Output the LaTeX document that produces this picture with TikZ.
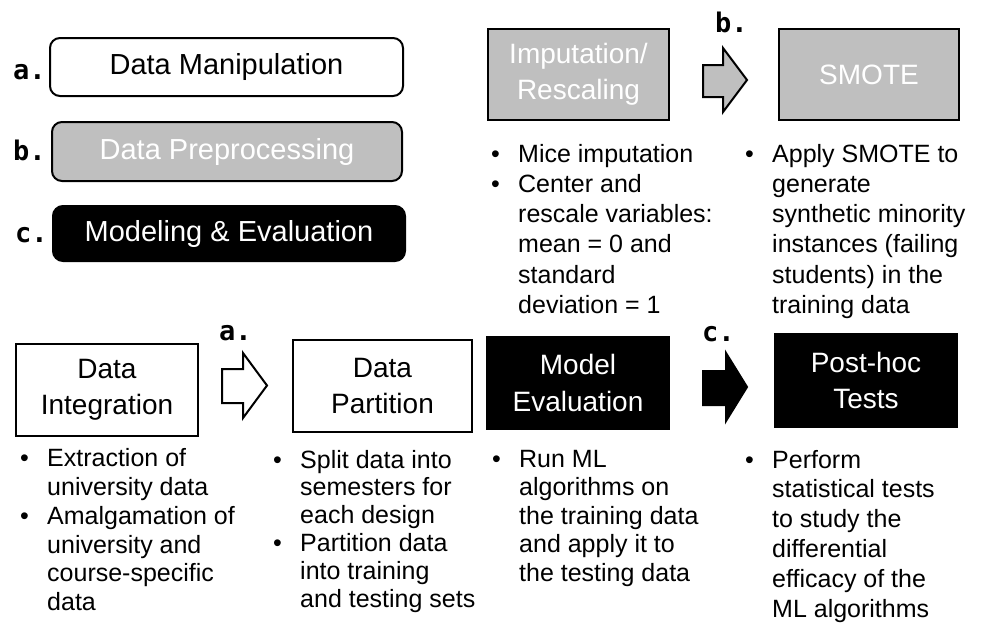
\documentclass[tikz,border=0pt]{standalone}
\usepackage{fontspec}
\setmainfont{Liberation Sans}
\newfontfamily\lblfont{DejaVu Sans Mono}
\definecolor{midgray}{HTML}{BFBFBF}
\newcommand\blt{\leavevmode\llap{\makebox[27pt][l]{•}}}
\tikzset{
  stepbox/.style={draw=black, line width=2pt, align=center, inner sep=0pt,
    font=\fontsize{28}{36.5}\selectfont},
  whitebox/.style={stepbox, fill=white, text=black},
  graybox/.style={stepbox, fill=midgray, text=white},
  blackbox/.style={stepbox, fill=black, text=white},
  legendbox/.style={rounded corners=10pt, font=\fontsize{29}{36.5}\selectfont},
  lbl/.style={anchor=base west, inner sep=0pt, font=\lblfont\bfseries\fontsize{27}{27}\selectfont},
  col/.style={anchor=base west, inner sep=0pt},
  blockarrow/.style={draw=black, line width=2pt, line join=miter},
}
\newcommand\topcol[1]{\parbox[t]{230pt}{\raggedright\fontsize{25}{30.2}\selectfont #1}}
\newcommand\botcol[2]{\parbox[t]{230pt}{\raggedright\fontsize{25}{#1}\selectfont #2}}
\begin{document}
\begin{tikzpicture}[x=1pt,y=-1pt]
\fill[white] (0,0) rectangle (983,632);
\useasboundingbox (0,0) rectangle (983,632);

% legend
\node[whitebox, legendbox, minimum width=353pt, minimum height=58pt] (la) at (226.5,67) {Data Manipulation};
\node[graybox, legendbox, minimum width=350pt, minimum height=59pt] (lb) at (227,151.5) {Data Preprocessing};
\node[blackbox, legendbox, minimum width=352pt, minimum height=55pt] (lc) at (229,233.5) {Modeling \& Evaluation};
\node[lbl] (la-l) at (13,79) {a.};
\node[lbl] (lb-l) at (13,160) {b.};
\node[lbl] (lc-l) at (15,242) {c.};

% top row
\node[graybox, minimum width=181pt, minimum height=91pt] (imp) at (578.5,74.5) {Imputation/\\Rescaling};
\node[graybox, minimum width=180pt, minimum height=91pt] (smote) at (869,74.5) {SMOTE};
\draw[blockarrow, fill=midgray] (703,65) -- (723,65) -- (723,48) -- (747,80) -- (723,112) -- (723,97) -- (703,97) -- cycle;
\node[lbl] (b-l) at (715,32) {b.};

% bottom row
\node[whitebox, minimum width=182pt, minimum height=92pt] (di) at (107,390) {Data\\Integration};
\node[whitebox, minimum width=179pt, minimum height=92pt] (dp) at (382.5,386) {Data\\Partition};
\node[blackbox, minimum width=182pt, minimum height=92pt] (me) at (578,383) {Model\\Evaluation};
\node[blackbox, minimum width=182pt, minimum height=93pt] (ph) at (866,380.5) {Post-hoc\\Tests};
\draw[blockarrow, fill=white] (222,369) -- (243,369) -- (243,353) -- (267,385.5) -- (243,418) -- (243,403) -- (222,403) -- cycle;
\draw[blockarrow, fill=black] (703,371) -- (726,371) -- (726,353) -- (747,387) -- (726,421) -- (726,405) -- (703,405) -- cycle;
\node[lbl] (a-l) at (219,340) {a.};
\node[lbl] (c-l) at (702,341) {c.};

% bullet texts
\node[col] (imp-t) at (518,162.3) {\topcol{\blt Mice imputation\\\blt Center and\\rescale variables:\\mean = 0 and\\standard\\deviation = 1}};
\node[col] (smote-t) at (772,162.3) {\topcol{\blt Apply SMOTE to\\generate\\synthetic minority\\instances (failing\\students) in the\\training data}};
\node[col] (di-t) at (47,466.7) {\botcol{28.8}{\blt Extraction of\\university data\\\blt Amalgamation of\\university and\\course-specific\\data}};
\node[col] (dp-t) at (300,468) {\botcol{27.8}{\blt Split data into\\semesters for\\each design\\\blt Partition data\\into training\\and testing sets}};
\node[col] (me-t) at (519,467) {\botcol{28.5}{\blt Run ML\\algorithms on\\the training data\\and apply it to\\the testing data}};
\node[col] (ph-t) at (772,468) {\botcol{29.8}{\blt Perform\\statistical tests\\to study the\\differential\\efficacy of the\\ML algorithms}};
\end{tikzpicture}
\end{document}
